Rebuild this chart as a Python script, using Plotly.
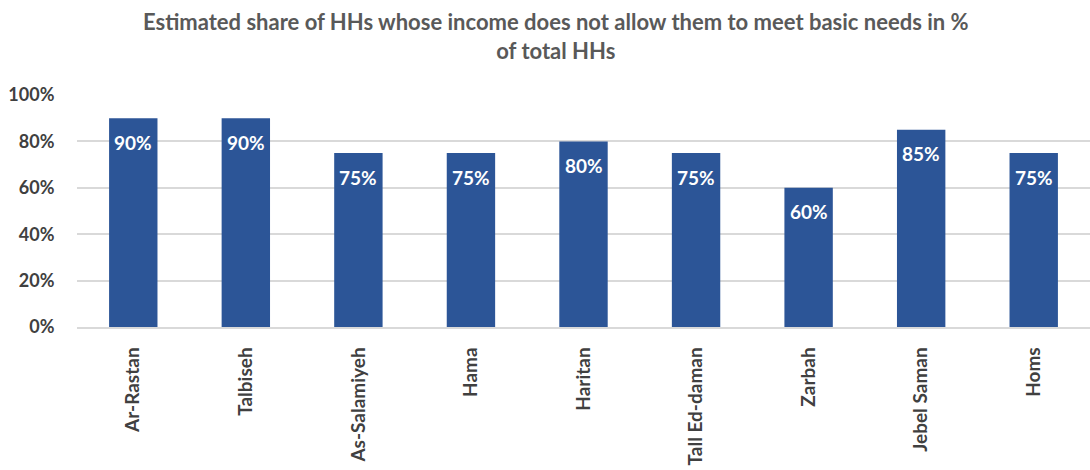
import plotly.graph_objects as go

categories = ["Ar-Rastan", "Talbiseh", "As-Salamiyeh", "Hama", "Haritan",
              "Tall Ed-daman", "Zarbah", "Jebel Saman", "Homs"]
share_pct = [90, 90, 75, 75, 80, 75, 60, 85, 75]
y_ticks = [0, 20, 40, 60, 80, 100]
y_tick_labels = [f"{v}%" for v in y_ticks]

FONT = "Lato"
BAR_COLOR = "#2C5597"
PLOT_TOP, PLOT_BOTTOM = 95, 143
PLOT_H = 470 - PLOT_TOP - PLOT_BOTTOM

fig = go.Figure()
fig.add_trace(go.Bar(
    x=categories,
    y=share_pct,
    width=0.43,
    marker=dict(color=BAR_COLOR, line=dict(width=0)),
    hoverinfo="skip",
))

# value labels sit inside each bar, just below its top
for cat, val in zip(categories, share_pct):
    fig.add_annotation(
        x=cat, y=val, yshift=-24, text=f"<b>{val}%</b>", showarrow=False,
        font=dict(family=FONT, size=19, color="white"),
        xanchor="center", yanchor="middle",
    )

# two-line chart title
fig.add_annotation(
    text="<b>Estimated share of HHs whose income does not allow them to meet basic needs in %<br>of total HHs</b>",
    xref="paper", yref="paper",
    x=(556 - 77) / 1013, y=1 + (PLOT_TOP - 6) / PLOT_H,
    xanchor="center", yanchor="top", showarrow=False,
    font=dict(family=FONT, size=22, color="#595959"),
)

fig.update_layout(
    width=1090, height=470,
    margin=dict(l=77, r=0, t=PLOT_TOP, b=PLOT_BOTTOM),
    paper_bgcolor="white", plot_bgcolor="white",
    showlegend=False,
    bargap=0.57,
)
fig.update_xaxes(
    automargin=False,
    tickangle=-90,
    tickfont=dict(family=FONT, size=19, color="#404040", weight="bold"),
    showline=True, linecolor="#D9D9D9", linewidth=1.5,
    ticks="outside", ticklen=11, tickcolor="rgba(0,0,0,0)",
    showgrid=False,
)
fig.update_yaxes(
    automargin=False,
    range=[0, 100],
    tickvals=y_ticks, ticktext=y_tick_labels,
    tickfont=dict(family=FONT, size=18, color="#404040", weight="bold"),
    showgrid=True, gridcolor="#D9D9D9", gridwidth=1.5,
    zeroline=False, ticks="outside", ticklen=18, tickcolor="rgba(0,0,0,0)",
    showline=False,
)

fig.write_html("out.html")
